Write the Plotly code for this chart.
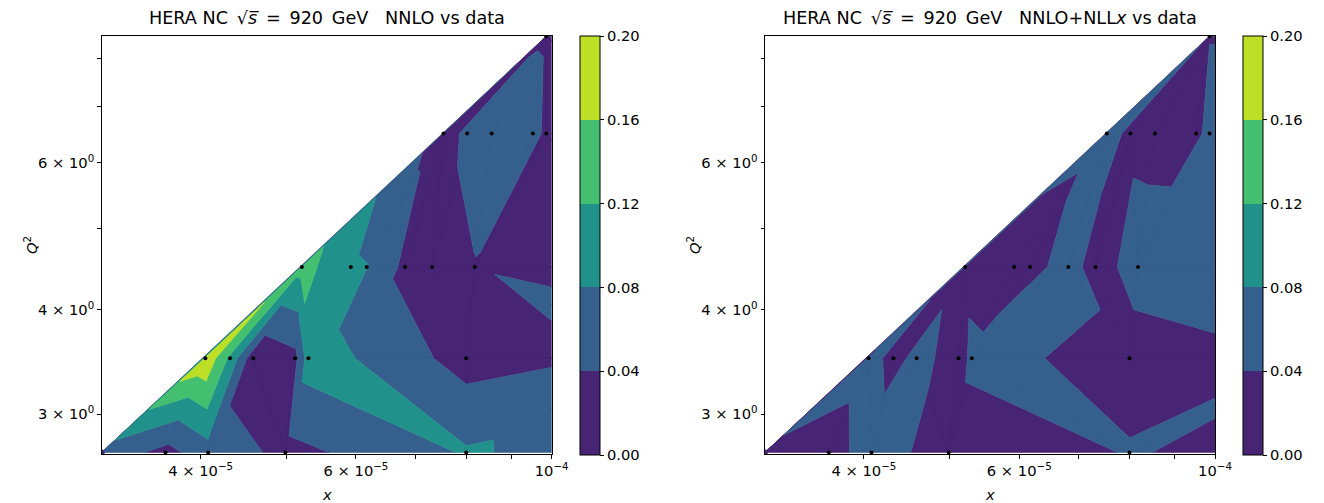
import numpy as np
import plotly.graph_objects as go

# ---------------- data ----------------
# measured points: Bjorken x and Q^2 (points beyond x=1e-4 lie outside the view)
x_data = [3.09e-5, 3.65e-5, 4.08e-5, 4.99e-5, 8.00e-5, 1.40e-4,
          4.05e-5, 4.32e-5, 4.59e-5, 5.12e-5, 5.30e-5, 8.00e-5, 1.30e-4,
          5.21e-5, 5.92e-5, 6.17e-5, 6.82e-5, 7.32e-5, 8.18e-5, 1.30e-4,
          7.54e-5, 8.02e-5, 8.55e-5, 9.52e-5, 9.86e-5, 1.30e-4,
          9.86e-5, 1.40e-4]
q2_data = [2.7, 2.7, 2.7, 2.7, 2.7, 2.7,
           3.5, 3.5, 3.5, 3.5, 3.5, 3.5, 3.5,
           4.5, 4.5, 4.5, 4.5, 4.5, 4.5, 4.5,
           6.5, 6.5, 6.5, 6.5, 6.5, 6.5,
           8.5, 8.5]
# relative deviation theory vs data
dev_nnlo = [0.065, 0.027, 0.064, 0.029, 0.084, 0.044,
            0.195, 0.110, 0.012, 0.030, 0.100, 0.021, 0.050,
            0.135, 0.085, 0.081, 0.030, 0.015, 0.039, 0.030,
            0.020, 0.050, 0.055, 0.050, 0.034, 0.030,
            0.037, 0.030]
dev_nllx = [0.037, 0.025, 0.057, 0.022, 0.0416, 0.022,
            0.055, 0.028, 0.050, 0.026, 0.047, 0.030, 0.041,
            0.030, 0.020, 0.032, 0.050, 0.030, 0.050, 0.050,
            0.050, 0.034, 0.0325, 0.032, 0.050, 0.050,
            0.039, 0.050]

levels = [0.00, 0.04, 0.08, 0.12, 0.16, 0.20]
band_colors = ["#482475", "#355f8d", "#21918c", "#44bf70", "#bddf26"]
titles = ["HERA NC\u2002\u221a<i>s\u0305</i>\u2002=\u2002920\u2002GeV\u00a0\u00a0\u00a0NNLO vs data",
          "HERA NC\u2002\u221a<i>s\u0305</i>\u2002=\u2002920\u2002GeV\u00a0\u00a0\u00a0NNLO+NLL<i>x</i> vs data"]
x_tickvals = [4e-5, 6e-5, 1e-4]
x_ticktext = ["4 \u00d7 10<sup>\u22125</sup>", "6 \u00d7 10<sup>\u22125</sup>", "10<sup>\u22124</sup>"]
x_minor_ticks = [5e-5, 7e-5, 8e-5, 9e-5]
y_tickvals = [3, 4, 6]
y_ticktext = ["3 \u00d7 10<sup>0</sup>", "4 \u00d7 10<sup>0</sup>", "6 \u00d7 10<sup>0</sup>"]
y_minor_ticks = [5, 7, 8]
x_max = 1e-4
y_lims = [2.686, 8.51]

FONT = "DejaVu Sans"
OFF = 8                      # default page body margin of the browser
FW, FH = 1308, 495           # figure size so the page keeps its width inside the window


def px_x(p):
    return (p - OFF) / FW


def px_y(p):
    return 1 - (p - OFF) / FH


# ---------------- Delaunay triangulation (in data coordinates) ----------------
def delaunay(px, py):
    n = len(px)
    order = sorted(range(n), key=lambda i: (px[i], py[i]))

    def orient(a, b, c):
        return (px[b] - px[a]) * (py[c] - py[a]) - (py[b] - py[a]) * (px[c] - px[a])

    a, b, c = order[0], order[1], order[2]
    if orient(a, b, c) < 0:
        b, c = c, b
    tris = [(a, b, c)]
    hull = [a, b, c]
    for p in order[3:]:
        m = len(hull)
        vis = [orient(hull[i], hull[(i + 1) % m], p) < 0 for i in range(m)]
        s = next(i for i in range(m) if vis[i] and not vis[i - 1])
        h = hull[s:] + hull[:s]
        k = 0
        while k < m and vis[(s + k) % m]:
            tris.append((h[(k + 1) % m], h[k], p))
            k += 1
        hull = [h[0], p] + h[k:]

    def incircle(a, b, c, d):
        adx, ady = px[a] - px[d], py[a] - py[d]
        bdx, bdy = px[b] - px[d], py[b] - py[d]
        cdx, cdy = px[c] - px[d], py[c] - py[d]
        return ((adx * adx + ady * ady) * (bdx * cdy - cdx * bdy)
                - (bdx * bdx + bdy * bdy) * (adx * cdy - cdx * ady)
                + (cdx * cdx + cdy * cdy) * (adx * bdy - bdx * ady))

    changed = True
    guard = 0
    while changed and guard < 5000:
        changed = False
        guard += 1
        edge = {}
        for ti, t in enumerate(tris):
            for j in range(3):
                edge[(t[j], t[(j + 1) % 3])] = (ti, t[(j + 2) % 3])
        for (u, v), (ti, w) in edge.items():
            if (v, u) in edge:
                tj, z = edge[(v, u)]
                if incircle(u, v, w, z) > 1e-16:
                    tris[ti] = (u, z, w)
                    tris[tj] = (z, v, w)
                    changed = True
                    break
    return tris


def clip(poly, lev, keep_above):
    out = []
    n = len(poly)
    for i in range(n):
        P, Q = poly[i], poly[(i + 1) % n]
        inP = P[2] >= lev if keep_above else P[2] <= lev
        inQ = Q[2] >= lev if keep_above else Q[2] <= lev
        if inP:
            out.append(P)
        if inP != inQ:
            t = (lev - P[2]) / (Q[2] - P[2])
            out.append((P[0] + t * (Q[0] - P[0]), P[1] + t * (Q[1] - P[1]), lev))
    return out


tris = delaunay(x_data, q2_data)

# ---------------- layout geometry (reference pixels) ----------------
x_domains = [[px_x(101.7), px_x(551.7)], [px_x(765.0), px_x(1215.0)]]
y_domain = [px_y(454.3), px_y(35.7)]
cbar_x = [px_x(580.0), px_x(1243.0)]

stepped = []
nb = len(band_colors)
for k, col in enumerate(band_colors):
    stepped.append([k / nb, col])
    stepped.append([(k + 1) / nb, col])

fig = go.Figure()
for pi, vals in enumerate([dev_nnlo, dev_nllx]):
    xa = "x" if pi == 0 else "x2"
    ya = "y" if pi == 0 else "y2"
    for k in range(nb):
        lo, hi = levels[k], levels[k + 1]
        XS, YS = [], []
        for (a, b, c) in tris:
            poly = [(x_data[i], q2_data[i], vals[i]) for i in (a, b, c)]
            poly = clip(poly, lo, True)
            if len(poly) >= 3:
                poly = clip(poly, hi, False)
            if len(poly) >= 3:
                XS += [q[0] for q in poly] + [poly[0][0], None]
                YS += [q[1] for q in poly] + [poly[0][1], None]
        if XS:
            fig.add_trace(go.Scatter(x=XS, y=YS, mode="lines", fill="toself",
                                     fillcolor=band_colors[k],
                                     line=dict(color=band_colors[k], width=0.6),
                                     xaxis=xa, yaxis=ya, hoverinfo="skip",
                                     showlegend=False))
    fig.add_trace(go.Scatter(x=x_data, y=q2_data, mode="markers",
                             marker=dict(color="black", size=4),
                             xaxis=xa, yaxis=ya, hoverinfo="skip", showlegend=False))
    fig.add_trace(go.Scatter(
        x=[x_data[0]], y=[q2_data[0]], mode="markers", xaxis=xa, yaxis=ya,
        hoverinfo="skip", showlegend=False,
        marker=dict(size=0, color=[levels[0]], cmin=levels[0], cmax=levels[-1],
                    colorscale=stepped, showscale=True,
                    colorbar=dict(x=cbar_x[pi], xanchor="left", y=px_y(245.5),
                                  yanchor="middle", len=419, lenmode="pixels",
                                  thickness=20, thicknessmode="pixels",
                                  outlinewidth=1, outlinecolor="black",
                                  xpad=0, ypad=0,
                                  tickvals=levels, ticktext=["%.2f" % v for v in levels],
                                  ticks="outside", ticklen=4, tickwidth=1,
                                  tickcolor="black",
                                  tickfont=dict(family=FONT, size=14.7, color="black")))))

axis_common = dict(showline=True, mirror=True, linecolor="black", linewidth=1,
                   ticks="outside", ticklen=3.5, tickwidth=1, tickcolor="black",
                   showgrid=False, zeroline=False, automargin=False,
                   tickfont=dict(family=FONT, size=14.7, color="black"))

layout = dict(width=FW, height=FH,
              margin=dict(l=0, r=0, t=0, b=0, pad=0, autoexpand=False),
              plot_bgcolor="white", paper_bgcolor="white", showlegend=False,
              font=dict(family=FONT, color="black"))
for pi in range(2):
    sx = "" if pi == 0 else "2"
    layout["xaxis" + sx] = dict(axis_common, type="log", domain=x_domains[pi],
                                range=[np.log10(min(x_data)), np.log10(x_max)],
                                tickvals=x_tickvals, ticktext=x_ticktext,
                                minor=dict(tickvals=x_minor_ticks, ticks="outside",
                                           ticklen=3.5, tickwidth=1, tickcolor="black",
                                           showgrid=False),
                                anchor="y" + sx)
    layout["yaxis" + sx] = dict(axis_common, type="log", domain=y_domain,
                                range=[np.log10(y_lims[0]), np.log10(y_lims[1])],
                                tickvals=y_tickvals, ticktext=y_ticktext,
                                minor=dict(tickvals=y_minor_ticks, ticks="outside",
                                           ticklen=3.5, tickwidth=1, tickcolor="black",
                                           showgrid=False),
                                anchor="x" + sx)

annotations = []
for pi in range(2):
    xc = (x_domains[pi][0] + x_domains[pi][1]) / 2
    annotations.append(dict(text=titles[pi], x=xc, y=px_y(17.5), xref="paper", yref="paper",
                            xanchor="center", yanchor="middle", showarrow=False,
                            font=dict(family=FONT, size=17.6, color="black")))
    annotations.append(dict(text="<i>x</i>", x=xc, y=px_y(494), xref="paper", yref="paper",
                            xanchor="center", yanchor="middle", showarrow=False,
                            font=dict(family=FONT, size=14.7, color="black")))
    annotations.append(dict(text="<i>Q</i><sup>2</sup>", x=px_x(30 if pi == 0 else 693),
                            y=px_y(245), xref="paper", yref="paper", textangle=-90,
                            xanchor="center", yanchor="middle", showarrow=False,
                            font=dict(family=FONT, size=14.7, color="black")))
layout["annotations"] = annotations
fig.update_layout(**layout)

fig.write_html("out.html")
